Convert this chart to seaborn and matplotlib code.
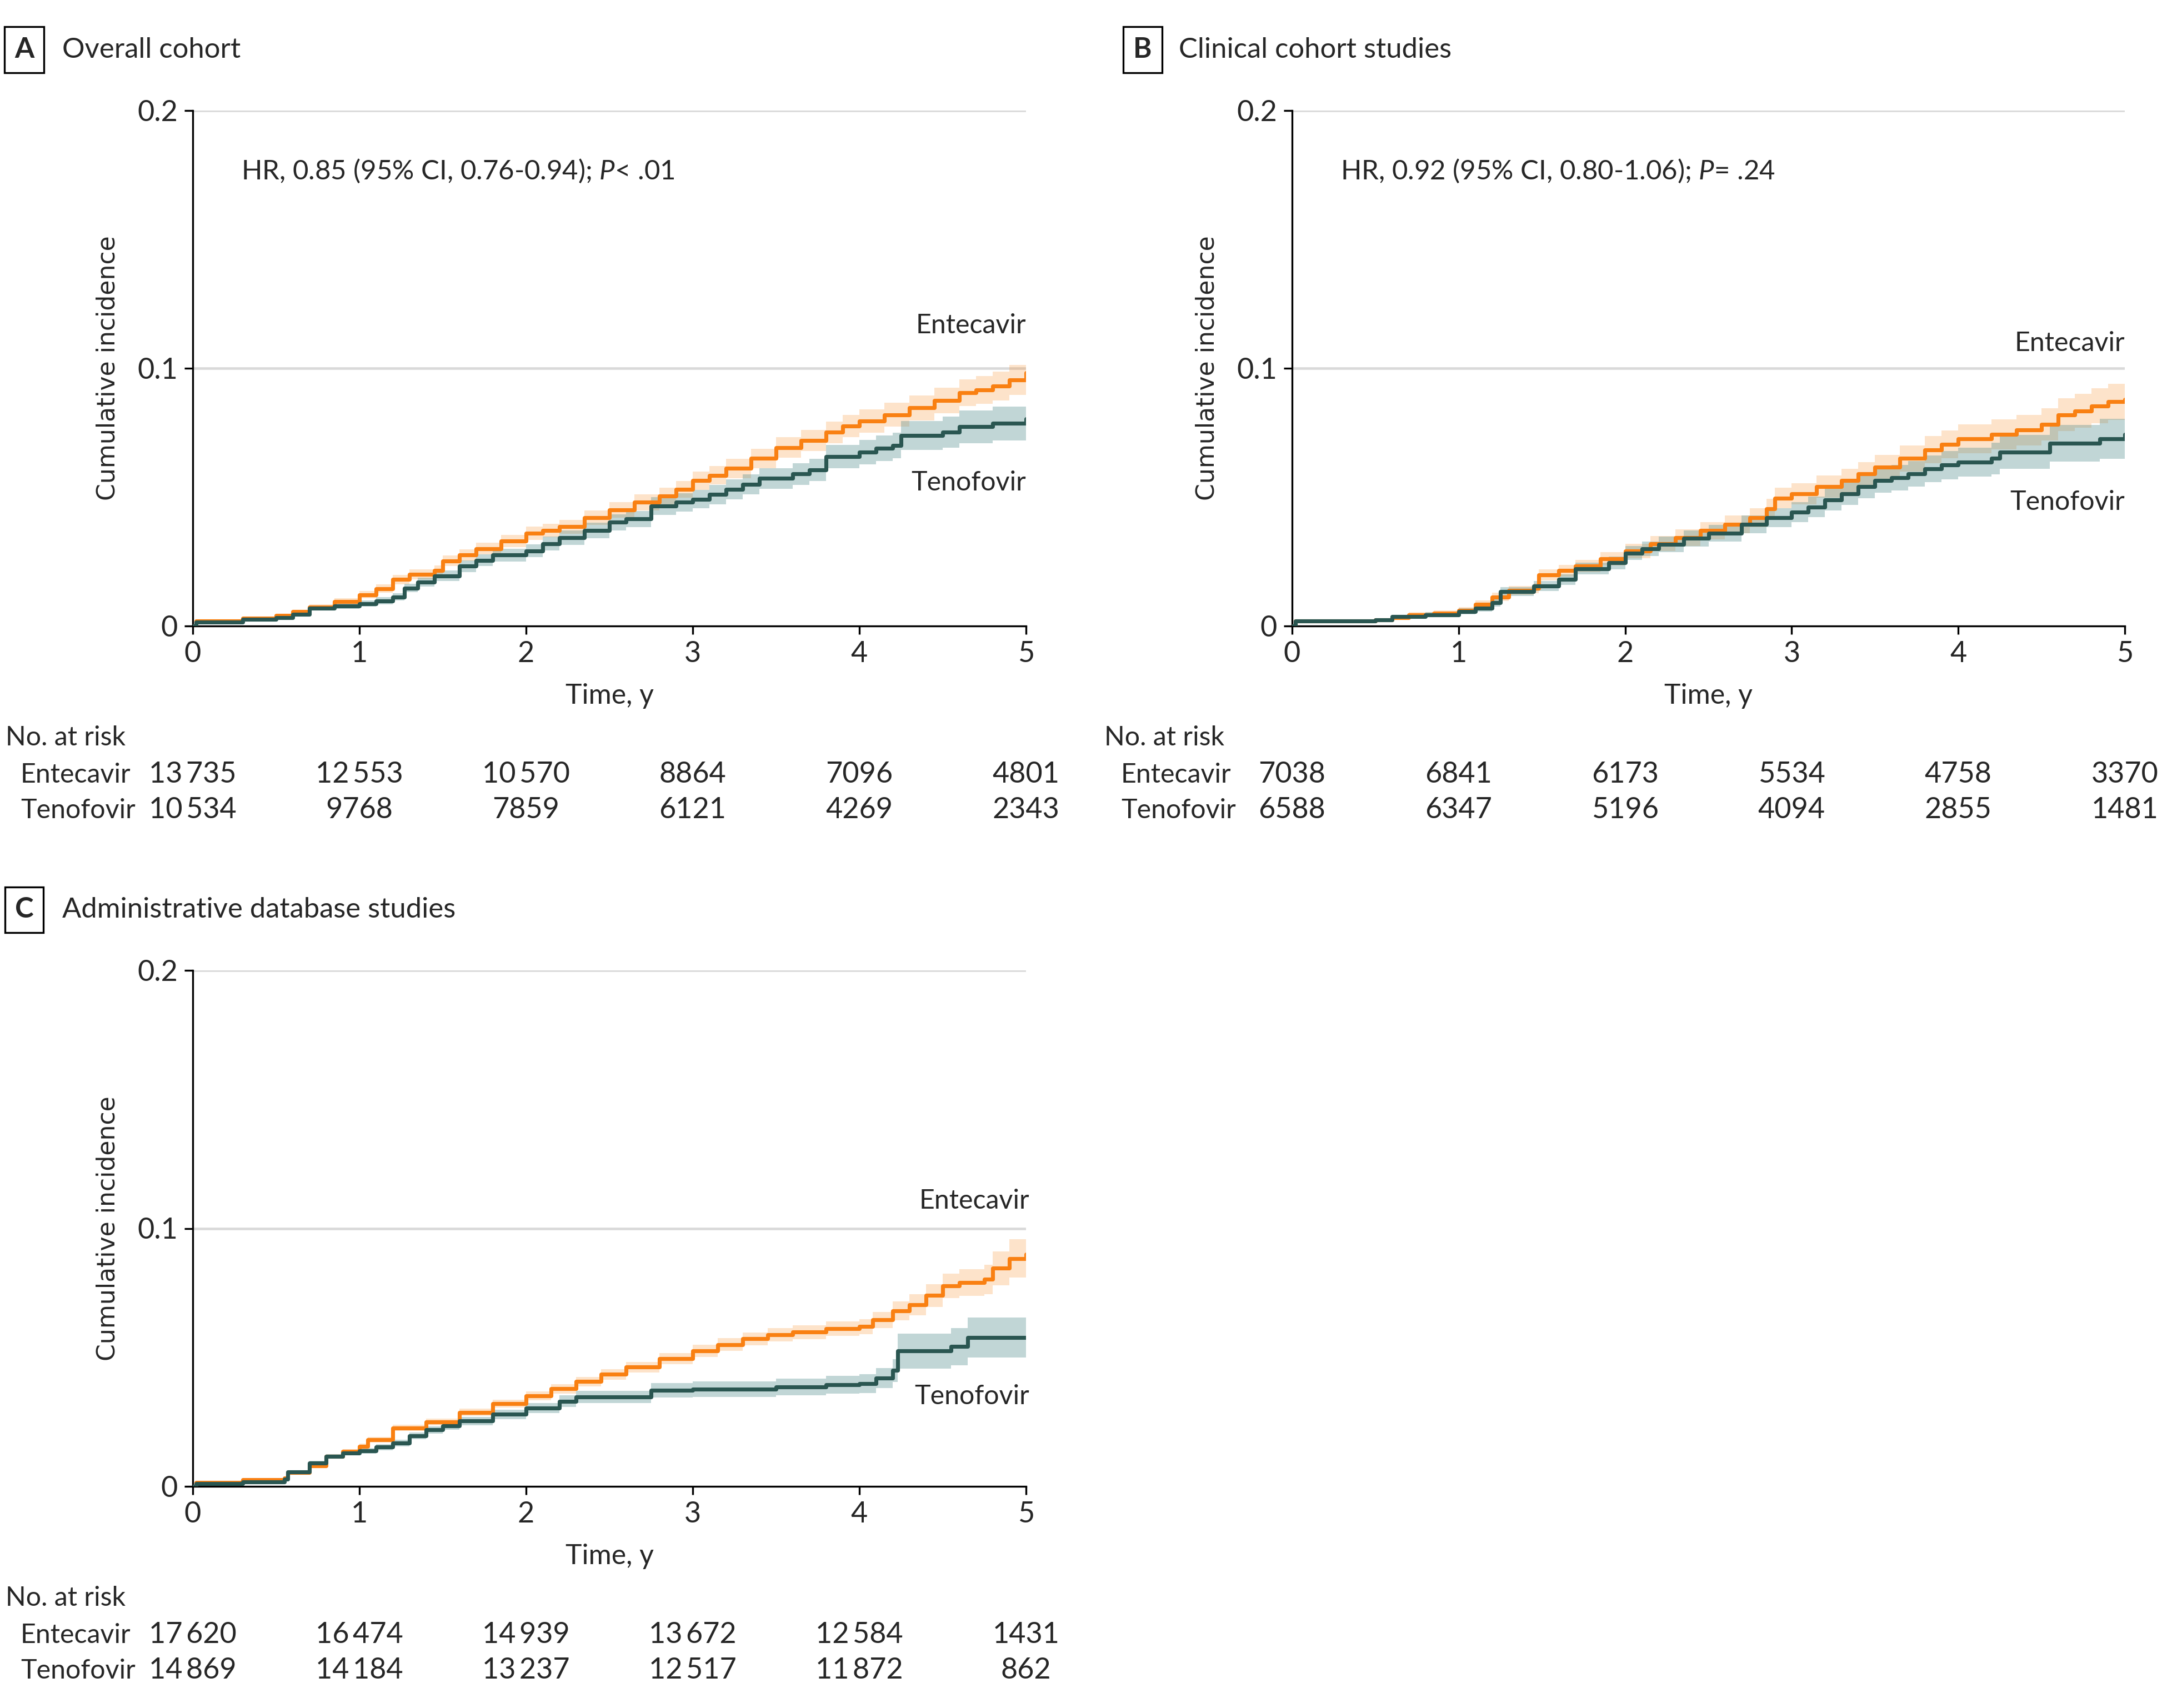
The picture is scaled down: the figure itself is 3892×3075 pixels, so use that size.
import numpy as np
import pandas as pd
import matplotlib
matplotlib.use("Agg")
import matplotlib.pyplot as plt
import matplotlib.transforms as mtrans
import seaborn as sns

# ---------------- data ----------------
groups = ["Entecavir", "Tenofovir"]
panel_letters = ["A", "B", "C"]
panel_titles = ["Overall cohort", "Clinical cohort studies", "Administrative database studies"]
hr_texts = ["HR, 0.85 (95% CI, 0.76-0.94); $\\mathit{P}$< .01",
            "HR, 0.92 (95% CI, 0.80-1.06); $\\mathit{P}$= .24",
            None]
x_ticks = [0, 1, 2, 3, 4, 5]
y_ticks = [0, 0.1, 0.2]
y_ticklabels = ["0", "0.1", "0.2"]

# Panel A
a_ent_t = [0, 0.02, 0.3, 0.5, 0.6, 0.7, 0.85, 1.0, 1.1, 1.2, 1.3, 1.45, 1.5, 1.6, 1.7, 1.85, 2.0, 2.1, 2.2, 2.35,
           2.5, 2.65, 2.8, 2.9, 3.0, 3.1, 3.2, 3.35, 3.5, 3.65, 3.8, 3.9, 4.0, 4.15, 4.3, 4.45, 4.6, 4.7, 4.8, 4.9, 5.0]
a_ent_y = [0, 0.0019, 0.003, 0.004, 0.0055, 0.0074, 0.0095, 0.0121, 0.0145, 0.018, 0.020, 0.0215, 0.0253, 0.0275,
           0.030, 0.033, 0.036, 0.037, 0.0385, 0.042, 0.045, 0.048, 0.0505, 0.053, 0.0564, 0.0585, 0.0611, 0.065,
           0.0692, 0.072, 0.0752, 0.0775, 0.0795, 0.082, 0.0846, 0.0875, 0.0905, 0.0915, 0.0931, 0.0955, 0.0982]
a_ent_ci = [0, 0.0004, 0.0005, 0.0006, 0.0008, 0.001, 0.0012, 0.0014, 0.0016, 0.0018,
            0.0019, 0.002, 0.0021, 0.0022, 0.0023, 0.0024, 0.0025, 0.0026, 0.0027, 0.0028,
            0.003, 0.0031, 0.0032, 0.0033, 0.0035, 0.0036, 0.0037, 0.0038, 0.004, 0.0041,
            0.0042, 0.0043, 0.0045, 0.0046, 0.0048, 0.005, 0.0052, 0.0054, 0.0056, 0.0058, 0.006]
a_ten_t = [0, 0.02, 0.3, 0.5, 0.6, 0.7, 0.85, 1.0, 1.1, 1.2, 1.27, 1.35, 1.45, 1.6, 1.7, 1.8, 2.0, 2.1, 2.2, 2.35,
           2.5, 2.6, 2.75, 2.9, 3.0, 3.1, 3.2, 3.3, 3.4, 3.6, 3.7, 3.8, 4.0, 4.1, 4.2, 4.25, 4.5, 4.6, 4.8, 5.0]
a_ten_y = [0, 0.0015, 0.0025, 0.0032, 0.0045, 0.007, 0.0077, 0.0087, 0.0098, 0.0113, 0.0147, 0.017, 0.0195, 0.0232,
           0.0255, 0.0275, 0.0292, 0.032, 0.0343, 0.037, 0.0402, 0.0415, 0.0466, 0.048, 0.0492, 0.051, 0.053, 0.055,
           0.0573, 0.059, 0.0605, 0.0658, 0.0675, 0.069, 0.070, 0.0739, 0.0752, 0.0773, 0.0786, 0.0803]
a_ten_ci = [0, 0.0004, 0.0005, 0.0006, 0.0008, 0.001, 0.0011, 0.0012, 0.0013, 0.0014,
            0.0016, 0.0018, 0.002, 0.0022, 0.0023, 0.0024, 0.0025, 0.0026, 0.0028, 0.003,
            0.0031, 0.0032, 0.0034, 0.0035, 0.0036, 0.0037, 0.0038, 0.0039, 0.004, 0.0042,
            0.0043, 0.0045, 0.0047, 0.0049, 0.005, 0.0056, 0.006, 0.0064, 0.0066, 0.0068]

# Panel B
b_ent_t = [0, 0.02, 0.5, 0.6, 0.7, 0.85, 1.0, 1.1, 1.2, 1.3, 1.45, 1.48, 1.6, 1.7, 1.85, 2.0, 2.15, 2.3, 2.45, 2.6,
           2.75, 2.85, 2.9, 3.0, 3.15, 3.3, 3.4, 3.5, 3.65, 3.8, 3.9, 4.0, 4.2, 4.35, 4.5, 4.6, 4.7, 4.8, 4.9, 5.0]
b_ent_y = [0, 0.0019, 0.0023, 0.0032, 0.0044, 0.005, 0.0061, 0.0085, 0.0113, 0.0138, 0.0147, 0.0198, 0.0215, 0.0232,
           0.026, 0.0292, 0.032, 0.0343, 0.037, 0.0394, 0.042, 0.0454, 0.0496, 0.0513, 0.054, 0.0564, 0.059, 0.0616,
           0.065, 0.0684, 0.0705, 0.0726, 0.0743, 0.076, 0.0782, 0.082, 0.0835, 0.0854, 0.087, 0.088]
b_ent_ci = [0, 0.0004, 0.0005, 0.0007, 0.0009, 0.001, 0.0012, 0.0014, 0.0016, 0.0018,
            0.002, 0.0022, 0.0023, 0.0024, 0.0026, 0.0028, 0.003, 0.0032, 0.0034, 0.0035,
            0.0037, 0.0039, 0.004, 0.0041, 0.0043, 0.0045, 0.0046, 0.0048, 0.005, 0.0052,
            0.0054, 0.0056, 0.0058, 0.006, 0.0062, 0.0064, 0.0066, 0.0068, 0.007, 0.007]
b_ten_t = [0, 0.02, 0.5, 0.6, 0.8, 1.0, 1.1, 1.2, 1.25, 1.45, 1.6, 1.7, 1.9, 2.0, 2.1, 2.2, 2.35, 2.5, 2.7, 2.85,
           3.0, 3.1, 3.2, 3.3, 3.4, 3.5, 3.6, 3.7, 3.8, 3.9, 4.0, 4.2, 4.25, 4.55, 4.85, 5.0]
b_ten_y = [0, 0.0019, 0.0023, 0.0036, 0.0044, 0.0057, 0.007, 0.0091, 0.0134, 0.0155, 0.018, 0.0223, 0.0245, 0.0283,
           0.03, 0.0317, 0.034, 0.036, 0.0394, 0.042, 0.0441, 0.0462, 0.049, 0.0513, 0.054, 0.0564, 0.0575, 0.059,
           0.061, 0.0624, 0.0635, 0.065, 0.0675, 0.0709, 0.0726, 0.0743]
b_ten_ci = [0, 0.0004, 0.0005, 0.0007, 0.0009, 0.0011, 0.0013, 0.0015, 0.0017, 0.0019,
            0.0021, 0.0023, 0.0025, 0.0027, 0.0028, 0.003, 0.0031, 0.0033, 0.0035, 0.0037,
            0.0039, 0.004, 0.0042, 0.0044, 0.0045, 0.0047, 0.0049, 0.005, 0.0052, 0.0054,
            0.0056, 0.0062, 0.0066, 0.0072, 0.0078, 0.008]

# Panel C
c_ent_t = [0, 0.02, 0.3, 0.55, 0.57, 0.7, 0.8, 0.9, 1.0, 1.05, 1.2, 1.4, 1.6, 1.8, 2.0, 2.15, 2.3, 2.45, 2.6, 2.8,
           3.0, 3.15, 3.3, 3.45, 3.6, 3.8, 4.0, 4.08, 4.2, 4.3, 4.4, 4.5, 4.6, 4.75, 4.8, 4.9, 5.0]
c_ent_y = [0, 0.0015, 0.0025, 0.0032, 0.0053, 0.008, 0.0117, 0.0135, 0.0155, 0.018, 0.0227, 0.0249, 0.0287, 0.0321,
           0.0351, 0.0378, 0.0406, 0.0434, 0.0462, 0.0495, 0.0525, 0.055, 0.0572, 0.0588, 0.0598, 0.0611, 0.0619,
           0.0645, 0.068, 0.0704, 0.074, 0.0777, 0.079, 0.0802, 0.0845, 0.0883, 0.09]
c_ent_ci = [0, 0.0003, 0.0004, 0.0005, 0.0006, 0.0007, 0.0008, 0.0009, 0.001, 0.0011,
            0.0012, 0.0013, 0.0014, 0.0015, 0.0017, 0.0018, 0.0019, 0.002, 0.0021, 0.0022,
            0.0023, 0.0024, 0.0025, 0.0026, 0.0027, 0.0028, 0.0029, 0.0032, 0.0036, 0.004,
            0.0044, 0.0048, 0.0052, 0.0058, 0.0066, 0.0074, 0.008]
c_ten_t = [0, 0.02, 0.3, 0.55, 0.57, 0.7, 0.8, 0.9, 1.0, 1.1, 1.2, 1.3, 1.4, 1.5, 1.6, 1.8, 2.0, 2.2, 2.3, 2.75,
           3.0, 3.5, 3.8, 4.0, 4.1, 4.2, 4.23, 4.55, 4.65, 5.0]
c_ten_y = [0, 0.001, 0.0018, 0.0027, 0.0057, 0.0091, 0.0117, 0.013, 0.0138, 0.0152, 0.0168, 0.0195, 0.0219, 0.0235,
           0.0253, 0.0279, 0.0304, 0.033, 0.0347, 0.0373, 0.0377, 0.0385, 0.0394, 0.0398, 0.0419, 0.0449, 0.0525,
           0.0542, 0.0577, 0.0577]
c_ten_ci = [0, 0.0003, 0.0004, 0.0005, 0.0006, 0.0007, 0.0008, 0.0009, 0.001, 0.0011,
            0.0012, 0.0013, 0.0014, 0.0015, 0.0016, 0.0018, 0.002, 0.0022, 0.0024, 0.0028,
            0.003, 0.0033, 0.0035, 0.0037, 0.0039, 0.0045, 0.0068, 0.0072, 0.0077, 0.0077]

# Numbers at risk (at years 0..5)
a_risk_ent = [13735, 12553, 10570, 8864, 7096, 4801]
a_risk_ten = [10534, 9768, 7859, 6121, 4269, 2343]
b_risk_ent = [7038, 6841, 6173, 5534, 4758, 3370]
b_risk_ten = [6588, 6347, 5196, 4094, 2855, 1481]
c_risk_ent = [17620, 16474, 14939, 13672, 12584, 1431]
c_risk_ten = [14869, 14184, 13237, 12517, 11872, 862]

# label y-positions (data units) for curve names
a_label_y = [0.1166, 0.0556]
b_label_y = [0.1096, 0.048]
c_label_y = [0.1107, 0.0348]

# ---------------- style ----------------
sns.set_theme(style="white")
FONT = ["Lato", "DejaVu Sans"]
plt.rcParams["font.family"] = FONT
plt.rcParams["mathtext.fontset"] = "custom"
plt.rcParams["mathtext.rm"] = "Lato"
plt.rcParams["mathtext.it"] = "Lato:italic"
FS_NUM = 12.5   # digits (ticks, at-risk numbers)
FS_TXT = 11.6   # words
FS_HR = 11.8
FS_TITLE = 12.2

ORANGE = "#F98012"
TEAL = "#2A5651"
BAND = {"Entecavir": ("#F98012", 0.22), "Tenofovir": ("#4F8C8C", 0.35)}
PALETTE = {"Entecavir": ORANGE, "Tenofovir": TEAL}

W, H = 3892, 3075
fig = plt.figure(figsize=(W / 300, H / 300), dpi=300)


def fmt(n):
    return f"{n:,}".replace(",", "\u2009") if n >= 10000 else str(n)


panels = [
    dict(rect=[347, 199, 1847, 1127], series=[(a_ent_t, a_ent_y, a_ent_ci), (a_ten_t, a_ten_y, a_ten_ci)],
         risk=[a_risk_ent, a_risk_ten], label_y=a_label_y, hr=hr_texts[0], risk_x=(10, 37),
         title_box=(43.5, 89.5), title_x=112, lab_dx=0.0),
    dict(rect=[2326, 199, 3825, 1127], series=[(b_ent_t, b_ent_y, b_ent_ci), (b_ten_t, b_ten_y, b_ten_ci)],
         risk=[b_risk_ent, b_risk_ten], label_y=b_label_y, hr=hr_texts[1], risk_x=(1988, 2018),
         title_box=(2057, 89.5), title_x=2122, lab_dx=0.0),
    dict(rect=[347, 1747, 1847, 2676], series=[(c_ent_t, c_ent_y, c_ent_ci), (c_ten_t, c_ten_y, c_ten_ci)],
         risk=[c_risk_ent, c_risk_ten], label_y=c_label_y, hr=None, risk_x=(10, 37),
         title_box=(43.5, 1638), title_x=112, lab_dx=0.02),
]

for i, p in enumerate(panels):
    x0, y0, x1, y1 = p["rect"]
    ax = fig.add_axes([x0 / W, 1 - y1 / H, (x1 - x0) / W, (y1 - y0) / H])
    frames = []
    for g, (t, y, ci) in zip(groups, p["series"]):
        t = np.asarray(t); y = np.asarray(y); ci = np.asarray(ci)
        col, al = BAND[g]
        ax.fill_between(t, y - ci, y + ci, step="post", color=col, alpha=al, lw=0, zorder=2)
        frames.append(pd.DataFrame({"Time": t, "Incidence": y, "Treatment": g}))
    df = pd.concat(frames, ignore_index=True)
    sns.lineplot(data=df, x="Time", y="Incidence", hue="Treatment", hue_order=groups, palette=PALETTE,
                 estimator=None, sort=False, drawstyle="steps-post", linewidth=1.7, legend=False, ax=ax, zorder=3)

    ax.set_xlim(0, 5)
    ax.set_ylim(0, 0.2)
    ax.set_xticks(x_ticks)
    ax.set_xticklabels([str(v) for v in x_ticks])
    ax.set_yticks(y_ticks)
    ax.set_yticklabels(y_ticklabels)
    for yy in [0.1, 0.2]:
        ax.axhline(yy, color="#D9D9D9", lw=1.1, zorder=1)
    sns.despine(ax=ax)
    for s in ["left", "bottom"]:
        ax.spines[s].set_linewidth(0.8)
        ax.spines[s].set_color("black")
    ax.tick_params(axis="both", which="major", direction="out", length=3.5, width=0.8, color="black",
                   labelsize=FS_NUM, pad=3, left=True, bottom=True)
    ax.set_xlabel("Time, y", fontsize=FS_TXT + 0.4)
    ax.xaxis.set_label_coords(0.5, -0.136)
    ax.xaxis.label.set_va("center")
    ax.set_ylabel("Cumulative incidence", fontsize=10.6, family=["DejaVu Sans"])
    ax.yaxis.set_label_coords(-0.102, 0.5)
    ax.yaxis.label.set_va("center")

    # curve labels
    for g, ly in zip(groups, p["label_y"]):
        ax.text(5 + p["lab_dx"], ly, g, ha="right", va="center", fontsize=FS_TXT, zorder=4)
    if p["hr"]:
        ax.text(0.29, 0.1765, p["hr"], ha="left", va="center", fontsize=FS_HR)

    # number at risk
    bt = mtrans.blended_transform_factory(ax.transData, ax.transAxes)
    fig.text(p["risk_x"][0] / W, 1 - (y1 + 201) / H, "No. at risk", ha="left", va="center", fontsize=FS_TXT)
    for r, (g, vals) in enumerate(zip(groups, p["risk"])):
        yy = 1 - (y1 + 268 + 64 * r) / H
        fig.text(p["risk_x"][1] / W, yy, g, ha="left", va="center", fontsize=FS_TXT)
        for xt, v in zip(x_ticks, vals):
            ax.text(xt, -(268 + 64 * r) / (y1 - y0), fmt(v), transform=bt, ha="center", va="center",
                    fontsize=FS_NUM, clip_on=False)

    # panel title
    bx, by = p["title_box"]
    fig.text(bx / W, 1 - by / H, panel_letters[i], ha="center", va="center", fontsize=FS_TITLE, fontweight="bold",
             bbox=dict(boxstyle="square,pad=0.35", fc="white", ec="black", lw=0.8))
    fig.text(p["title_x"] / W, 1 - by / H, panel_titles[i], ha="left", va="center", fontsize=FS_TITLE)

fig.savefig("out.png", dpi=300, facecolor="white")
